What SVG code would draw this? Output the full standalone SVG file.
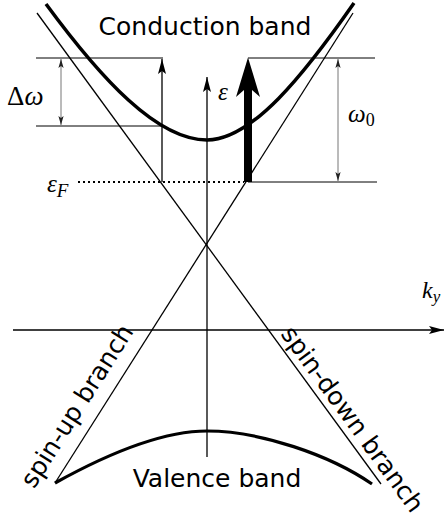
<svg xmlns="http://www.w3.org/2000/svg" width="446" height="519" viewBox="0 0 446 519">
<style>
.thin{stroke:#000;stroke-width:1.3;fill:none}
.hl{stroke:#000;stroke-width:1;fill:none}
.band{stroke:#000;stroke-width:3.5;fill:none}
.dim{stroke:#777;stroke-width:1;fill:none}
.sans{font-family:"DejaVu Sans",sans-serif;font-size:25px;fill:#000}
.math{font-family:"Liberation Serif","DejaVu Serif",serif;fill:#000}
</style>
<defs>
<marker id="head" markerUnits="userSpaceOnUse" viewBox="-16 -5 17 10" markerWidth="17" markerHeight="10" refX="0" refY="0" orient="auto">
<path d="M0,0 L-15,-4 L-12,0 L-15,4 Z" fill="#000"/>
</marker>
<marker id="dimhead" markerUnits="userSpaceOnUse" viewBox="-10 -4 11 8" markerWidth="11" markerHeight="8" refX="0" refY="0" orient="auto-start-reverse">
<path d="M0,0 L-9,-2.6 L-7,0 L-9,2.6 Z" fill="#222"/>
</marker>
</defs>
<g id="connectors">
<path id="spin-down-line" class="thin" d="M37,13 L381,484"/>
<path id="spin-up-line" class="thin" d="M353,13 L55,483"/>
<path id="eps-axis" class="thin" d="M207,457 L207,77" marker-end="url(#head)"/>
<path id="ky-axis" class="thin" d="M13,330 L444,330" marker-end="url(#head)"/>
<path class="hl" d="M36,58 H163 M36,126 H162 M248,58 H375 M248,182 H377"/>
<path class="dim" d="M61,59 V125" marker-start="url(#dimhead)" marker-end="url(#dimhead)"/>
<path class="dim" d="M338,59 V181" marker-start="url(#dimhead)" marker-end="url(#dimhead)"/>
<path id="fermi" d="M78,182 H244" stroke="#000" stroke-width="2" stroke-dasharray="2 3"/>
<path id="thin-transition" class="thin" d="M162,182 L162,59" marker-end="url(#head)"/>
<path id="thick-transition" d="M244,182 L244,90 L236,97 L248,57.5 L260,97 L252,90 L252,182 Z" fill="#000"/>
</g>
<g id="conduction-band">
<path class="band" d="M46,4 C101,78.8 157,140 207,140 C252,140 304,74.75 354,3"/>
<text class="sans" x="205" y="35" text-anchor="middle">Conduction band</text>
</g>
<g id="valence-band">
<path class="band" style="stroke-width:3.2" d="M55,483 C100,458 160,431 207,431 C260,431 330,455 372,484"/>
<text class="sans" x="217" y="487" text-anchor="middle">Valence band</text>
</g>
<g id="spin-up-branch">
<text class="sans" transform="translate(34,489.5) rotate(-57.6)">spin-up branch</text>
</g>
<g id="spin-down-branch">
<text class="sans" transform="translate(280,334) rotate(53.9)">spin-down branch</text>
</g>
<g id="labels">
<text class="math" x="7" y="105" font-size="27">Δ<tspan font-style="italic">ω</tspan></text>
<text class="math" x="348" y="122" font-size="25"><tspan font-style="italic">ω</tspan><tspan font-size="18" dy="4">0</tspan></text>
<text class="math" x="218" y="100" font-size="25" font-style="italic">ε</text>
<text class="math" x="47" y="192" font-size="25" font-style="italic">ε<tspan font-size="19" dy="5">F</tspan></text>
<text class="math" x="422" y="298" font-size="24" font-style="italic">k<tspan font-size="17" dy="4">y</tspan></text>
</g>
</svg>
